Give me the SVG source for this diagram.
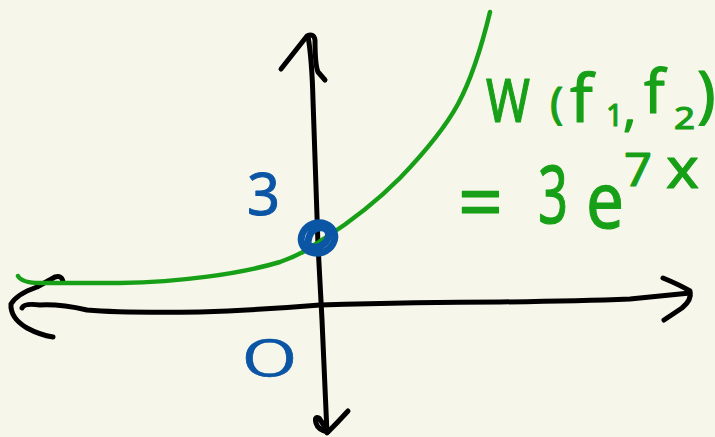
<svg xmlns="http://www.w3.org/2000/svg" width="715" height="437" viewBox="0 0 715 437">
<style>
.ink{fill:none;stroke-linecap:round;stroke-linejoin:round}
.blk{stroke:#000;stroke-width:5}
.grn{stroke:#17a017;stroke-width:4.5}
.blu{stroke:#0b55a5;stroke-width:7}
.tg{fill:#17a017;stroke:#17a017;stroke-width:1.2;stroke-linejoin:round;font-family:"Noto Sans",sans-serif}
.tb{fill:#0b55a5;stroke:#0b55a5;stroke-width:1;stroke-linejoin:round;font-family:"Noto Sans",sans-serif}
</style>
<rect width="715" height="437" fill="#f7f6ea"/>
<g id="axes">
<path class="ink blk" d="M22,308 Q24,303 40,305 Q60,304 87,310 Q120,313 200,312 Q260,310 320,305 Q420,302 500,302 Q580,301 630,299 L690,293"/>
<path class="ink blk" d="M63,282 Q62,275 55,277 L37,287 Q17,294 11,304 Q10,318 27,328 Q40,335 53,337"/>
<path class="ink blk" d="M663,278 Q680,285 690,291 Q692,300 682,308 L664,320"/>
<path class="ink blk" d="M308,36 Q312,60 313,100 L318,245 L322,320 L327,433"/>
<path class="ink blk" d="M281,69 Q296,50 307,36 Q314,33 315,40 Q315,65 318,72 L325,80"/>
<path class="ink blk" d="M348,411 Q338,422 328,432 Q318,430 316,423 Q314,416 319,418 L327,430"/>
</g>
<g id="curve">
<path class="ink grn" d="M18,276 Q22,283 40,283 L120,283 C180,282 240,274 280,262 C300,255 310,248 325,238 C350,222 375,203 400,178 C425,152 445,128 458,104 C472,78 482,45 490,12"/>
</g>
<g id="point">
<ellipse class="ink blu" cx="318" cy="238" rx="17" ry="15" transform="rotate(-20 318 238)"/>
<path class="ink blu" d="M308,242 Q310,226 324,228 Q332,232 326,242 Q318,250 310,246" stroke-width="4"/>
</g>
<g id="labels">
<text class="tb" x="247" y="215" font-size="58" textLength="33" lengthAdjust="spacingAndGlyphs">3</text>
<text x="240" y="377" font-size="52" textLength="59" lengthAdjust="spacingAndGlyphs" fill="#0b55a5" stroke="#0b55a5" stroke-width="0.4" font-family="Inter, sans-serif" font-weight="300">0</text>
</g>
<g id="formula">
<text class="tg" x="486" y="122" font-size="60" textLength="44" lengthAdjust="spacingAndGlyphs">W</text>
<text class="tg" x="550" y="118" font-size="44">(</text>
<text class="tg" x="570" y="122" font-size="66">f</text>
<text class="tg" x="606" y="126" font-size="30">1</text>
<text class="tg" x="623" y="126" font-size="50">,</text>
<text class="tg" x="644" y="113" font-size="60">f</text>
<text class="tg" x="674" y="129" font-size="30" textLength="21" lengthAdjust="spacingAndGlyphs">2</text>
<text class="tg" x="697" y="115" font-size="62">)</text>
<text class="tg" x="458" y="230" font-size="80" textLength="45" lengthAdjust="spacingAndGlyphs">=</text>
<text class="tg" x="538" y="223" font-size="80" textLength="30" lengthAdjust="spacingAndGlyphs">3</text>
<text class="tg" x="586" y="228" font-size="78" textLength="38" lengthAdjust="spacingAndGlyphs">e</text>
<text class="tg" x="624" y="186" font-size="46" textLength="28" lengthAdjust="spacingAndGlyphs">7</text>
<text class="tg" x="666" y="188" font-size="56" textLength="33" lengthAdjust="spacingAndGlyphs">x</text>
</g>
</svg>
